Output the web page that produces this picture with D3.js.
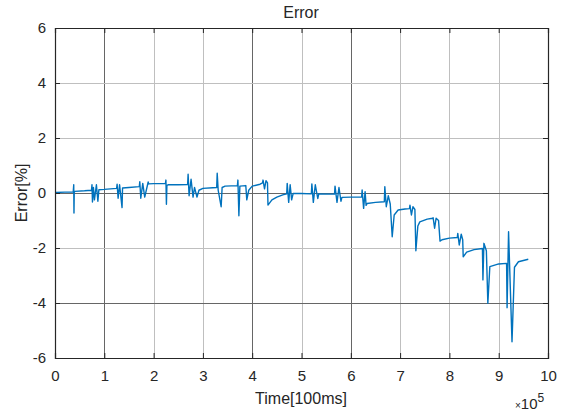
<!DOCTYPE html>
<html lang="en">
<head>
<meta charset="UTF-8">
<title>Error</title>
<style>
  body { margin: 0; background: #fff; }
  text { font-family: "Liberation Sans", Arial, sans-serif; fill: #262626; }
</style>
</head>
<body>
<script src="https://d3js.org/d3.v7.min.js"></script>
<script>
// time in units of 1e5 (x100ms), error in %
var timeVals = [0, 0.2, 0.37, 0.38, 0.385, 0.39, 0.4, 0.6, 0.74, 0.75, 0.76, 0.78, 0.8, 0.84, 0.87, 0.89, 1.0, 1.25,
  1.26, 1.28, 1.31, 1.36, 1.37, 1.5, 1.71, 1.72, 1.74, 1.78, 1.82, 1.89, 1.9, 2.0, 2.24, 2.25, 2.26, 2.27, 2.3, 2.5,
  2.69, 2.70, 2.72, 2.76, 2.80, 2.83, 2.88, 2.92, 3.0, 3.2, 3.28, 3.29, 3.31, 3.37, 3.39, 3.45, 3.7, 3.71, 3.73, 3.75,
  3.87, 3.89, 3.93, 4.0, 4.16, 4.21, 4.22, 4.25, 4.28, 4.31, 4.32, 4.4, 4.5, 4.62, 4.70, 4.71, 4.74, 4.77, 4.8, 4.83,
  5.0, 5.20, 5.21, 5.24, 5.28, 5.33, 5.35, 5.67, 5.68, 5.72, 5.76, 5.80, 5.82, 6.0, 6.22, 6.23, 6.26, 6.29, 6.31, 6.33,
  6.5, 6.68, 6.69, 6.72, 6.76, 6.80, 6.84, 6.88, 6.96, 7.1, 7.19, 7.2, 7.23, 7.26, 7.3, 7.32, 7.36, 7.4, 7.55, 7.66,
  7.67, 7.7, 7.73, 7.78, 7.81, 7.85, 8.0, 8.16, 8.17, 8.2, 8.24, 8.27, 8.28, 8.35, 8.5, 8.67, 8.68, 8.7, 8.75, 8.78,
  8.82, 9.0, 9.16, 9.17, 9.2, 9.22, 9.27, 9.32, 9.4, 9.6];
var errorVals = [0.02, 0.03, 0.04, 0.3, -0.73, 0.02, 0.06, 0.08, 0.1, 0.3, -0.33, 0.2, -0.25, 0.3, -0.3, 0.12, 0.13, 0.17,
  0.32, -0.19, 0.3, -0.53, 0.18, 0.2, 0.23, 0.41, -0.19, 0.35, -0.15, 0.4, 0.33, 0.34, 0.35, 0.47, -0.41, 0.28, 0.3, 0.3,
  0.31, 0.68, -0.1, 0.5, -0.15, 0.2, -0.15, 0.1, 0.17, 0.19, 0.2, 0.72, 0.1, -0.5, 0.2, 0.25, 0.27, 0.47, -0.83, 0.25,
  0.27, -0.25, 0.1, 0.25, 0.32, 0.37, 0.47, 0.15, 0.45, 0.37, -0.44, -0.25, -0.15, -0.07, -0.03, 0.35, -0.34, 0.3, -0.25, -0.02,
  -0.02, -0.03, 0.33, -0.34, 0.3, -0.2, -0.03, -0.04, 0.25, -0.34, 0.2, -0.3, -0.16, -0.15, -0.15, 0.11, -0.56, 0.05, -0.45, -0.38,
  -0.34, -0.32, 0.23, -0.5, -0.1, -0.4, -1.59, -0.8, -0.62, -0.58, -0.57, -0.44, -0.8, -0.5, -0.6, -2.1, -1.2, -1.05, -0.95, -0.92,
  -0.9, -1.28, -0.92, -1.0, -1.75, -1.7, -1.64, -1.62, -1.47, -1.89, -1.5, -1.7, -2.32, -2.15, -2.06, -2.02, -3.16, -1.83, -2.1, -4.01,
  -2.68, -2.58, -2.56, -4.17, -1.41, -2.56, -5.41, -2.7, -2.5, -2.41];
var xTicks = [0, 1, 2, 3, 4, 5, 6, 7, 8, 9, 10];
var yTicks = [-6, -4, -2, 0, 2, 4, 6];
var darkX = [1, 4, 6];
var darkY = [0, -4];

var W = 563, H = 415;
var mLeft = 55, mTop = 28, mRight = 548, mBottom = 358;

var svg = d3.select("body").append("svg").attr("width", W).attr("height", H);

var x = d3.scaleLinear().domain([0, 10]).range([mLeft, mRight]);
var y = d3.scaleLinear().domain([-6, 6]).range([mBottom, mTop]);

// grid
svg.selectAll(".gx").data(xTicks.slice(1, -1)).enter().append("line")
  .attr("x1", function(d){ return Math.round(x(d)) + 0.5; })
  .attr("x2", function(d){ return Math.round(x(d)) + 0.5; })
  .attr("y1", mTop).attr("y2", mBottom)
  .attr("stroke", function(d){ return darkX.indexOf(d) >= 0 ? "#666" : "#bfbfbf"; });
svg.selectAll(".gy").data(yTicks.slice(1, -1)).enter().append("line")
  .attr("y1", function(d){ return Math.round(y(d)) + 0.5; })
  .attr("y2", function(d){ return Math.round(y(d)) + 0.5; })
  .attr("x1", mLeft).attr("x2", mRight)
  .attr("stroke", function(d){ return darkY.indexOf(d) >= 0 ? "#666" : "#bfbfbf"; });

// data line
var line = d3.line()
  .x(function(d){ return x(d[0]); })
  .y(function(d){ return y(d[1]); });
svg.append("path")
  .datum(d3.zip(timeVals, errorVals))
  .attr("fill", "none")
  .attr("stroke", "#0072BD")
  .attr("stroke-width", 1.4)
  .attr("stroke-linejoin", "round")
  .attr("d", line);

// axes (box with ticks inside)
var g = svg.append("g");
g.append("g").attr("transform", "translate(0," + mBottom + ")")
  .call(d3.axisBottom(x).tickValues(xTicks).tickSize(-5).tickPadding(12));
g.append("g").attr("transform", "translate(0," + mTop + ")")
  .call(d3.axisTop(x).tickValues(xTicks).tickSize(-5).tickFormat(""));
g.append("g").attr("transform", "translate(" + mLeft + ",0)")
  .call(d3.axisLeft(y).tickValues(yTicks).tickSize(-5).tickPadding(9)
    .tickFormat(function(d){ return String(d); }));
g.append("g").attr("transform", "translate(" + mRight + ",0)")
  .call(d3.axisRight(y).tickValues(yTicks).tickSize(-5).tickFormat(""));
g.selectAll(".domain").attr("stroke", "#262626").attr("stroke-width", 1.2);
g.selectAll(".tick line").attr("stroke", "#262626");
g.selectAll(".tick text").attr("font-size", 15).attr("fill", "#262626")
  .style("font-family", "'Liberation Sans', Arial, sans-serif");

// labels
svg.append("text").attr("x", 301).attr("y", 18).attr("text-anchor", "middle")
  .attr("font-size", 16).text("Error");
svg.append("text").attr("x", 301).attr("y", 404).attr("text-anchor", "middle")
  .attr("font-size", 16).text("Time[100ms]");
svg.append("text").attr("transform", "translate(27,193) rotate(-90)").attr("text-anchor", "middle")
  .attr("font-size", 16).text("Error[%]");
var ex = svg.append("text").attr("x", 515).attr("y", 409).attr("font-size", 15);
ex.append("tspan").attr("font-size", 10).text("\u00d7");
ex.append("tspan").text("10");
ex.append("tspan").attr("dy", -7).attr("font-size", 12).text("5");
</script>
</body>
</html>
